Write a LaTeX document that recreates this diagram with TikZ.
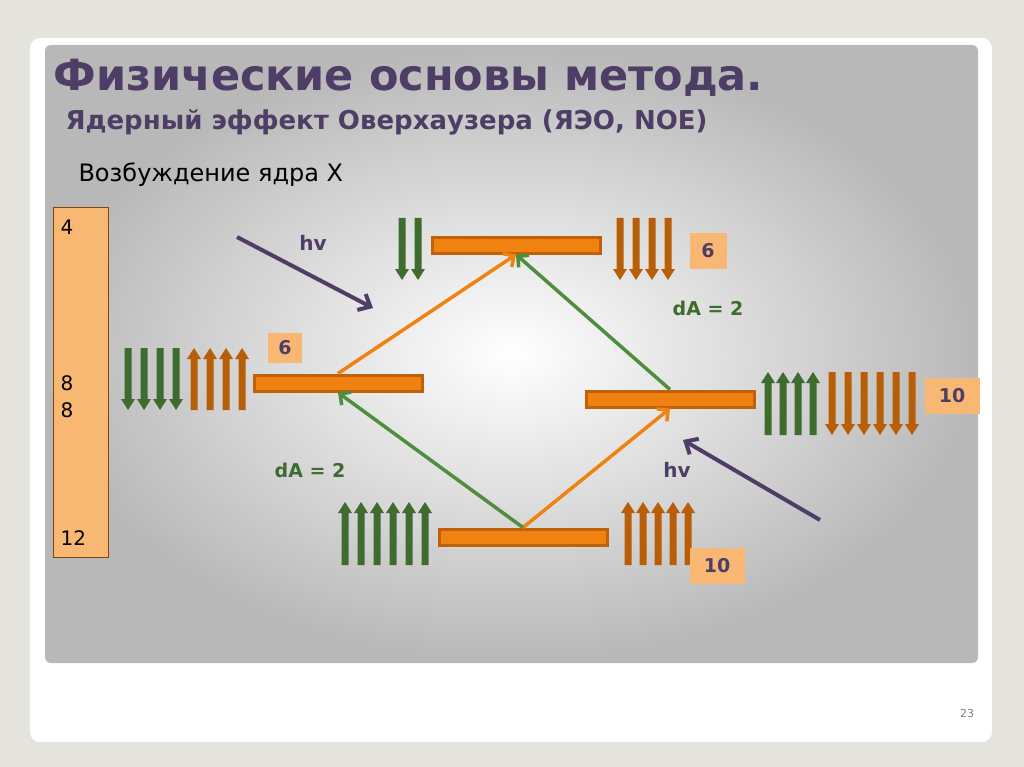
\documentclass[tikz,border=0pt]{standalone}
\usepackage{fontspec}
\setmainfont{DejaVu Sans}
\usetikzlibrary{arrows.meta}
\definecolor{gr}{HTML}{3E6B2E}
\definecolor{br}{HTML}{B85E08}
\definecolor{org}{HTML}{F0820F}
\definecolor{orgd}{HTML}{C0600A}
\definecolor{pur}{HTML}{4E3E66}
\definecolor{lbl}{HTML}{F8B874}
\definecolor{grl}{HTML}{4E8E3E}
\definecolor{frame}{HTML}{E4E4DC}
\definecolor{edge}{HTML}{B8B8B8}
\tikzset{
 levelbar/.style={draw=orgd,fill=org,line width=3pt,minimum width=168pt,minimum height=16pt,inner sep=0pt},
 numbox/.style={fill=lbl,font=\bfseries\fontsize{19}{21}\selectfont,text=pur,inner sep=0pt,minimum height=36pt},
 greentxt/.style={text=gr,font=\bfseries\fontsize{19}{21}\selectfont},
 hvtxt/.style={text=pur,font=\bfseries\fontsize{20}{22}\selectfont},
 photon/.style={draw=pur,line width=4pt,-{Straight Barb[length=10pt,width=18pt]}},
 oline/.style={draw=org,line width=3.5pt,-{Straight Barb[length=8pt,width=16pt]}},
 gline/.style={draw=grl,line width=3.5pt,-{Straight Barb[length=8pt,width=16pt]}},
}
\newcommand\dnarr[4]{\fill[#4] (#1-3.5,#2) -- (#1+3.5,#2) -- (#1+3.5,#3-11) -- (#1+7,#3-11) -- (#1,#3) -- (#1-7,#3-11) -- (#1-3.5,#3-11) -- cycle;}
\newcommand\uparr[4]{\fill[#4] (#1-3.5,#3) -- (#1+3.5,#3) -- (#1+3.5,#2+11) -- (#1+7,#2+11) -- (#1,#2) -- (#1-7,#2+11) -- (#1-3.5,#2+11) -- cycle;}
\begin{document}
\begin{tikzpicture}[x=1pt,y=-1pt]
\useasboundingbox (0,0) rectangle (1024,767);
\fill[frame] (0,0) rectangle (1024,767);
\fill[white,rounded corners=10pt] (30,38) rectangle (992,742);
\shade[inner color=white,outer color=edge,rounded corners=6pt] (45,45) rectangle (978,663);
\node[anchor=west,text=pur,font=\bfseries\fontsize{43}{45}\selectfont] (title) at (50,78) {Физические основы метода.};
\node[anchor=west,text=pur,font=\bfseries\fontsize{26}{28}\selectfont] (sub) at (62,122) {Ядерный эффект Оверхаузера (ЯЭО, NOE)};
\node[anchor=west,font=\fontsize{24}{26}\selectfont] (exc) at (75,175) {Возбуждение ядра X};
\node[draw=orgd!70!black,fill=lbl,line width=1pt,minimum width=55pt,minimum height=350pt,inner sep=0pt,anchor=north west] (lbox) at (53,207) {};
\foreach \t/\yy in {4/227,8/383,8/410,12/538}
  \node[anchor=west,font=\fontsize{20}{22}\selectfont] at (57,\yy) {\t};
% levels
\node[levelbar] (top) at (516,245) {};
\node[levelbar] (left) at (338,383) {};
\node[levelbar] (right) at (670,399) {};
\node[levelbar] (bot) at (523,537) {};
% spin arrows
\foreach \x in {402,418} {\dnarr{\x}{218}{280}{gr}}
\foreach \x in {620,636,652,668} {\dnarr{\x}{218}{280}{br}}
\foreach \x in {128,144,160,176} {\dnarr{\x}{348}{410}{gr}}
\foreach \x in {194,210,226,242} {\uparr{\x}{348}{410}{br}}
\foreach \x in {768,783,798,813} {\uparr{\x}{372}{435}{gr}}
\foreach \x in {832,848,864,880,896,912} {\dnarr{\x}{372}{435}{br}}
\foreach \x in {345,361,377,393,409,425} {\uparr{\x}{502}{565}{gr}}
\foreach \x in {628,643,658,673,688} {\uparr{\x}{502}{565}{br}}
% labels
\node[numbox,minimum width=34pt,minimum height=30pt] (n6a) at (285,348) {6};
\node[numbox,minimum width=37pt] (n6b) at (708,251) {6};
\node[numbox,minimum width=55pt] (n10a) at (952,396) {10};
\node[numbox,minimum width=55pt] (n10b) at (717,566) {10};
\node[hvtxt] (hv1) at (313,243) {hv};
\node[hvtxt] (hv2) at (677,470) {hv};
\node[greentxt] (da1) at (708,308) {dA = 2};
\node[greentxt] (da2) at (310,470) {dA = 2};
% photons
\coordinate (p1s) at (237,237); \coordinate (p1e) at (373,308);
\coordinate (p2s) at (820,520); \coordinate (p2e) at (683,440);
\draw[photon] (p1s) -- (p1e);
\draw[photon] (p2s) -- (p2e);
% transitions
\draw[oline] (left.north) -- (top.south);
\draw[oline] (bot.north) -- (right.south);
\draw[gline] (right.north) -- (top.south);
\draw[gline] (bot.north) -- (left.south);
\node[text=gray,font=\fontsize{11}{12}\selectfont] (pg) at (967,713) {23};
\end{tikzpicture}
\end{document}
